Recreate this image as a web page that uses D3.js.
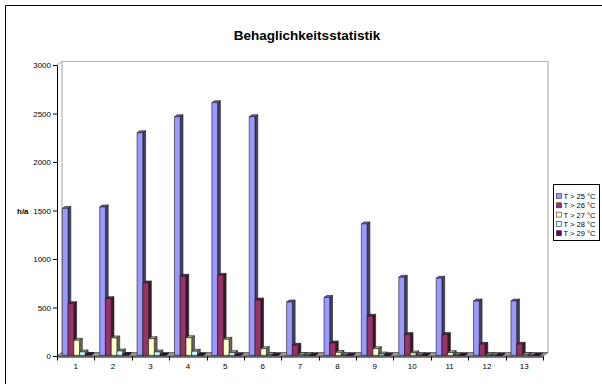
<!DOCTYPE html>
<html lang="de">
<head>
<meta charset="UTF-8">
<title>Behaglichkeitsstatistik</title>
<style>
body { margin: 0; background: #fff; }
text { font-family: "Liberation Sans", Arial, sans-serif; fill: #000; }
</style>
</head>
<body>
<script src="https://cdn.jsdelivr.net/npm/d3@7"></script>
<script>
    // values (hours per year)
    var categories = ["1", "2", "3", "4", "5", "6", "7", "8", "9", "10", "11", "12", "13"];
    var seriesNames = ["T > 25 °C", "T > 26 °C", "T > 27 °C", "T > 28 °C", "T > 29 °C"];
    var t25 = [1515, 1530, 2295, 2460, 2605, 2460, 550, 597, 1355, 805, 795, 560, 560];
    var t26 = [533, 584, 746, 815, 825, 570, 104, 127, 403, 214, 214, 114, 114];
    var t27 = [155, 179, 172, 182, 165, 69, 9, 30, 69, 25, 28, 4, 9];
    var t28 = [35, 45, 35, 42, 28, 7, 3, 3, 14, 3, 3, 2, 2];
    var t29 = [9, 9, 4, 4, 2, 1, 1, 1, 1, 1, 1, 1, 1];
    var yTicks = [0, 500, 1000, 1500, 2000, 2500, 3000];
    var colors = ["#9999ff", "#993366", "#ffffcc", "#ccffff", "#660066"];

    var series = [t25, t26, t27, t28, t29];

    var W = 602, H = 384;
    var x0 = 57, x1 = 543, yBase = 356, yTop = 65;
    var DX = 5, DY = -3.5;          // depth of the 3d box
    var d0 = 0.2, d1 = 0.75;        // depth taken by the columns

    var svg = d3.select("body").append("svg")
        .attr("width", W)
        .attr("height", H);

    // outer frame
    svg.append("path")
        .attr("d", "M5.5," + H + "V5.5H" + W)
        .attr("fill", "none")
        .attr("stroke", "#000");

    svg.append("text")
        .attr("x", 307)
        .attr("y", 40)
        .attr("text-anchor", "middle")
        .style("font-size", "13.5px")
        .style("font-weight", "bold")
        .text("Behaglichkeitsstatistik");

    var x = d3.scaleBand().domain(categories).range([x0, x1]);
    var xs = d3.scaleBand().domain(seriesNames).range([0, x.bandwidth()]).paddingOuter(0.75);
    var y = d3.scaleLinear().domain([0, 3000]).range([yBase, yTop]);

    function p(px, py, d) {
        return [px + d * DX, py + d * DY];
    }
    function pts(list) {
        return "M" + list.map(function(q) { return q[0] + "," + q[1]; }).join("L");
    }

    // walls
    var wall = svg.append("g").attr("fill", "none").attr("stroke", "#b4b4b4").attr("stroke-width", 1.2);
    wall.append("path").attr("d", pts([p(x0, yTop, 0), p(x0, yTop, 1), p(x1, yTop, 1), p(x1, yBase, 1)]));
    wall.append("path").attr("d", pts([p(x0, yTop, 1), p(x0, yBase, 1)]));

    // floor
    svg.append("path")
        .attr("d", pts([p(x0, yBase, 0), p(x1, yBase, 0), p(x1, yBase, 1), p(x0, yBase, 1)]) + "Z")
        .attr("fill", "#999")
        .attr("stroke", "#333")
        .attr("stroke-width", 0.6);

    // columns
    function shade(c, k) {
        var r = d3.rgb(c);
        return d3.rgb(r.r * k, r.g * k, r.b * k).formatHex();
    }
    var bars = svg.append("g").attr("stroke", "#1a1a1a").attr("stroke-width", 0.6).attr("stroke-linejoin", "round");
    categories.forEach(function(cat, i) {
        seriesNames.forEach(function(name, s) {
            var v = series[s][i];
            var xa = x(cat) + xs(name), xb = xa + xs.bandwidth();
            var yv = y(v);
            var g = bars.append("g");
            g.append("path")
                .attr("d", pts([p(xb, yBase, d0), p(xb, yBase, d1), p(xb, yv, d1), p(xb, yv, d0)]) + "Z")
                .attr("fill", shade(colors[s], 0.42));
            g.append("path")
                .attr("d", pts([p(xa, yv, d0), p(xb, yv, d0), p(xb, yv, d1), p(xa, yv, d1)]) + "Z")
                .attr("fill", shade(colors[s], 0.68));
            g.append("path")
                .attr("d", pts([p(xa, yBase, d0), p(xb, yBase, d0), p(xb, yv, d0), p(xa, yv, d0)]) + "Z")
                .attr("fill", colors[s]);
        });
    });

    // y axis
    var yAxis = svg.append("g")
        .attr("transform", "translate(" + x0 + ",0)")
        .call(d3.axisLeft(y).tickValues(yTicks).tickSize(4).tickSizeOuter(0).tickPadding(2).tickFormat(d3.format("d")));
    yAxis.selectAll("text").style("font-size", "8px").style("font-family", "Liberation Sans, Arial, sans-serif");
    yAxis.selectAll("line, path").attr("stroke", "#000");

    svg.append("text")
        .attr("x", 17)
        .attr("y", y(1500) + 3)
        .style("font-size", "8px")
        .style("font-weight", "bold")
        .text("h/a");

    // x axis: labels centred, ticks between categories
    var xAxis = svg.append("g")
        .attr("transform", "translate(0," + (yBase + 0.5) + ")")
        .call(d3.axisBottom(x).tickSize(0).tickSizeOuter(0).tickPadding(7));
    xAxis.selectAll("text").style("font-size", "8px").style("font-family", "Liberation Sans, Arial, sans-serif");
    xAxis.select(".domain").attr("stroke", "#000");
    var bounds = categories.map(function(c) { return x(c); }).concat([x1]);
    xAxis.selectAll(".bound").data(bounds).enter().append("line")
        .attr("class", "bound")
        .attr("x1", function(d) { return Math.round(d) + 0.5; })
        .attr("x2", function(d) { return Math.round(d) + 0.5; })
        .attr("y1", 0).attr("y2", 4)
        .attr("stroke", "#000");

    // legend
    var lg = svg.append("g").attr("transform", "translate(553.5,184.5)");
    lg.append("rect").attr("width", 46).attr("height", 56).attr("fill", "#fff").attr("stroke", "#000");
    seriesNames.forEach(function(name, s) {
        var row = lg.append("g").attr("transform", "translate(3," + (12 + s * 9.3) + ")");
        row.append("rect").attr("x", 0).attr("y", -3).attr("width", 5).attr("height", 5)
            .attr("fill", colors[s]).attr("stroke", "#333").attr("stroke-width", 0.6);
        row.append("text").attr("x", 7).attr("y", 2.5).style("font-size", "7.5px").text(name);
    });
</script>
</body>
</html>
